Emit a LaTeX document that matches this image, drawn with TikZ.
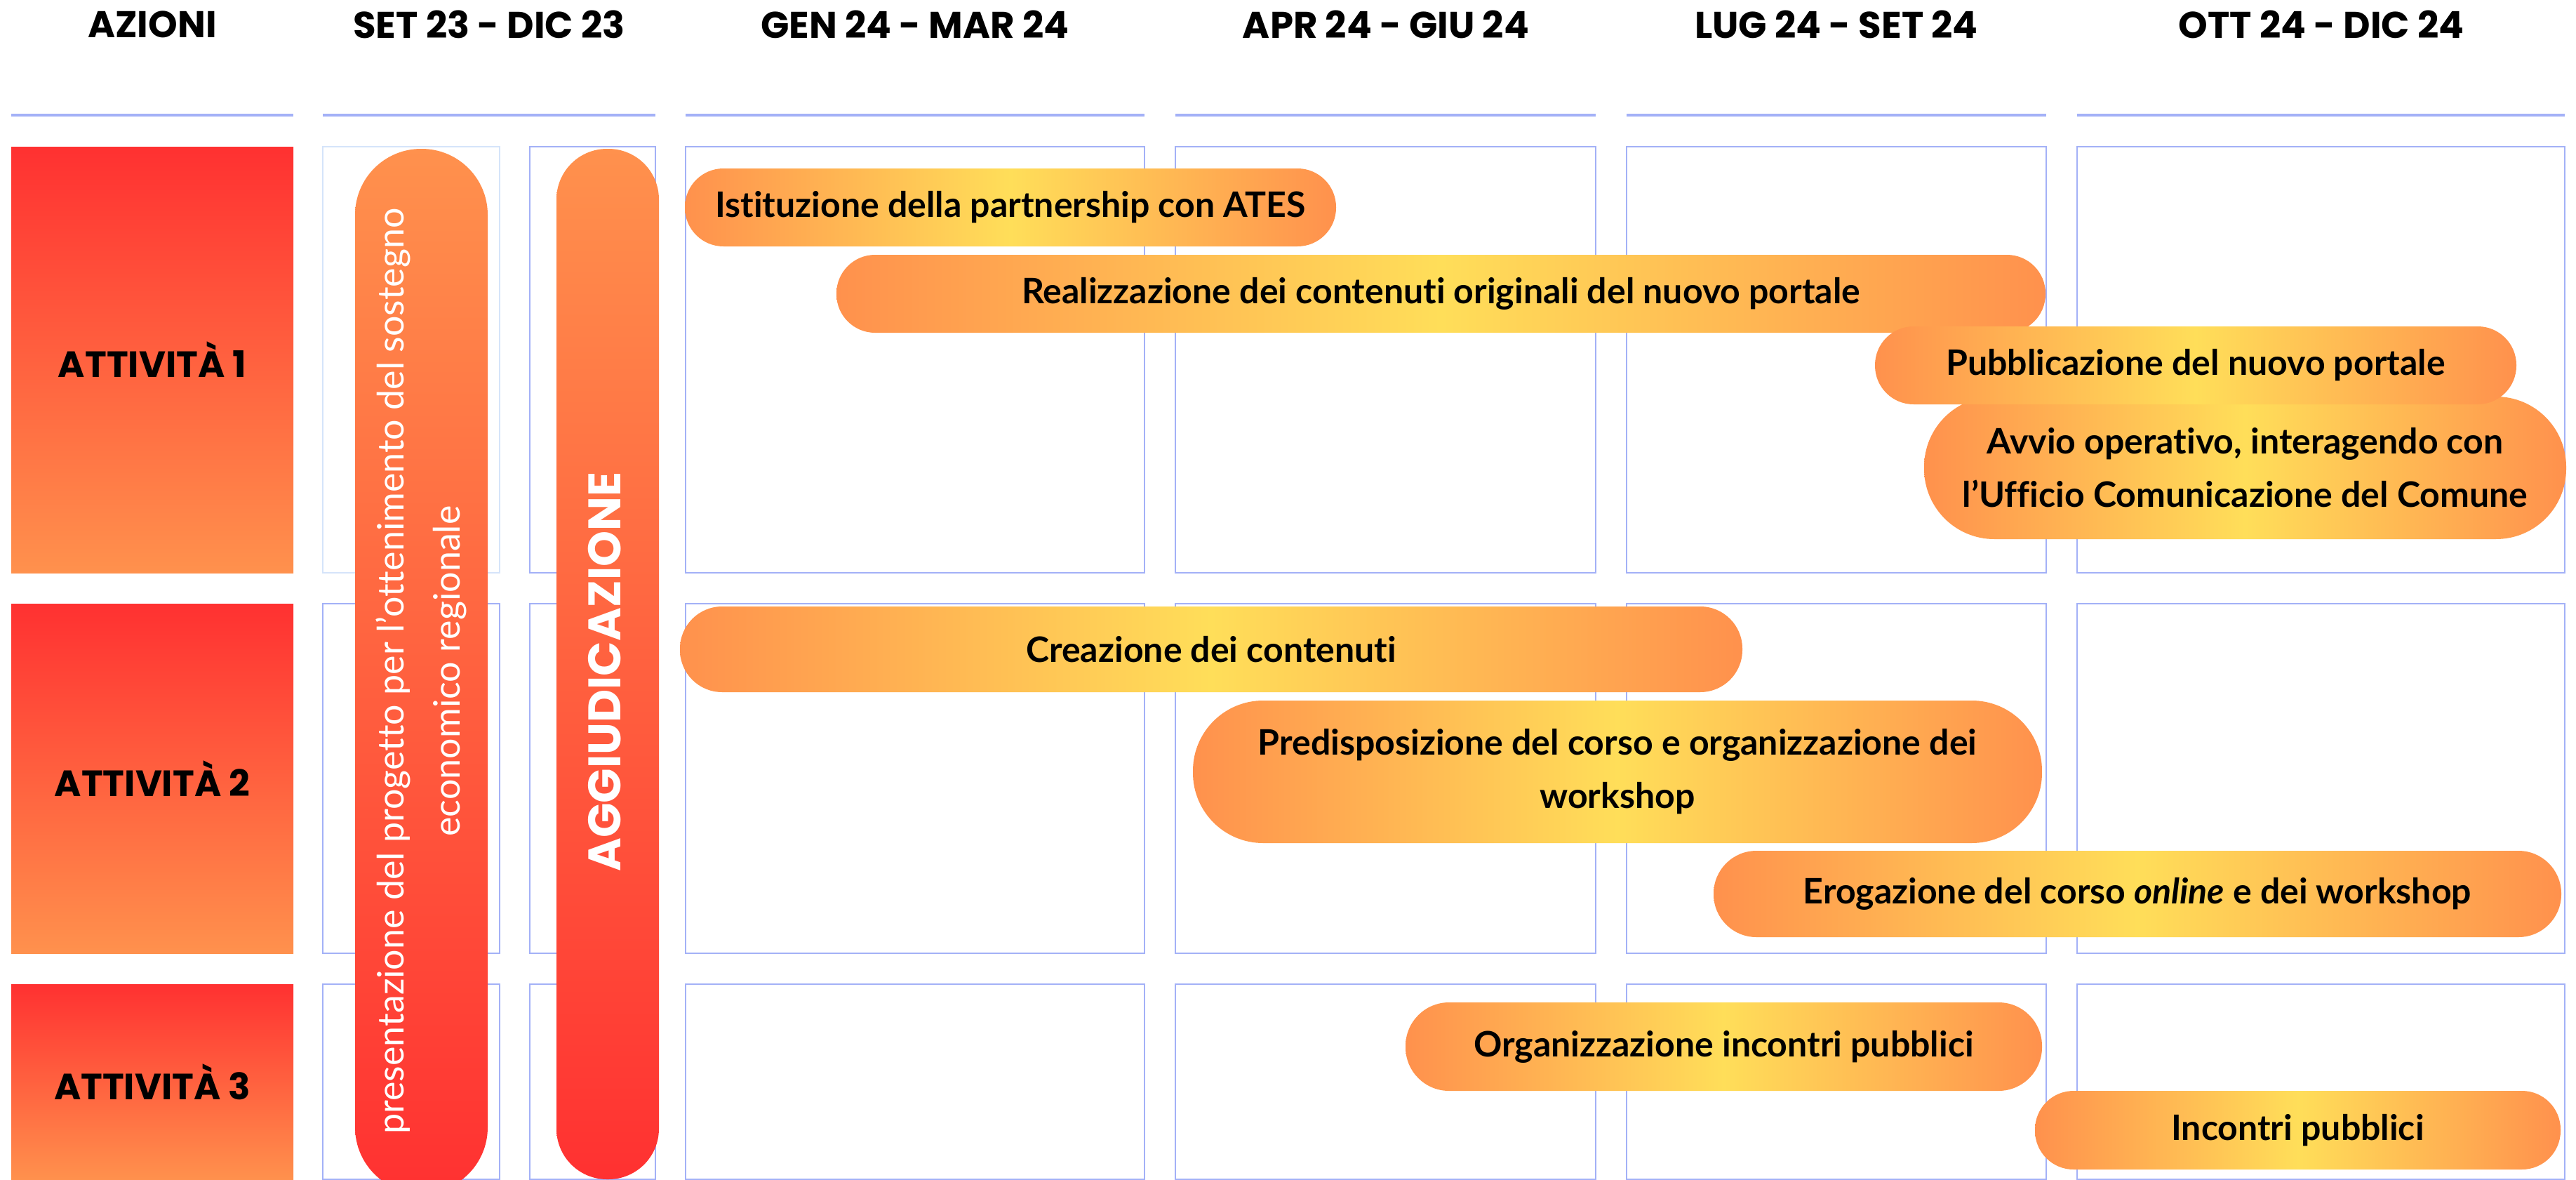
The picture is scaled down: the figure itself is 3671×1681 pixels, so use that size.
\documentclass[tikz,border=0pt]{standalone}
\usepackage{fontspec}
\setmainfont{Lato}[Ligatures={NoCommon}]
\newfontfamily\popf{Poppins}
\definecolor{gridc}{HTML}{A3B1F7}
\definecolor{gridl}{HTML}{D5E4FA}
\definecolor{redc}{HTML}{FF3131}
\definecolor{orc}{HTML}{FF914D}
\definecolor{yelc}{HTML}{FFDE59}
\begin{document}
\begin{tikzpicture}[x=1pt,y=-1pt,
  cell/.style={draw=gridc, line width=2.5pt},
  hline/.style={draw=gridc, line width=3.5pt},
  head/.style={font=\popf\bfseries\fontsize{53}{60}\selectfont, inner sep=0pt},
  actbox/.style={rectangle, inner sep=0pt, top color=redc, bottom color=orc,
    font=\popf\bfseries\fontsize{52}{60}\selectfont},
  bar/.style={rectangle, inner sep=0pt, rounded corners=#1, left color=orc, right color=orc,
    middle color=yelc, font=\bfseries\fontsize{50}{76}\selectfont, align=center},
  vbar/.style={rectangle, inner sep=0pt, rounded corners=#1,
    top color=orc, bottom color=redc},
  vtext/.style={rotate=90, text=white, align=center, inner sep=0pt},
]
\useasboundingbox (0,0) rectangle (3671,1681);
\clip (0,0) rectangle (3671,1681);
\fill[white] (0,0) rectangle (3671,1681);

% header lines
\foreach \a/\b in {16/418,460/934,977/1631,1675/2274,2318/2916,2960/3655}
  \draw[hline] (\a,164) -- (\b,164);

% headers
\node[head] (hAz) at (217,35) {AZIONI};
\node[head] (hSet) at (697,35) {SET 23 - DIC 23};
\node[head] (hGen) at (1304,35) {GEN 24 - MAR 24};
\node[head] (hApr) at (1975,35) {APR 24 - GIU 24};
\node[head] (hLug) at (2617,35) {LUG 24 - SET 24};
\node[head] (hOtt) at (3308,35) {OTT 24 - DIC 24};

% grid cells
\foreach \ya/\yb in {209/816,860/1358,1402/1680}
  \foreach \xa/\xb in {460/712,755/934,977/1631,1675/2274,2318/2916,2960/3655}
    \draw[cell] (\xa,\ya) rectangle (\xb,\yb);
\draw[draw=white, line width=3pt] (460,209) rectangle (712,816);
\draw[draw=gridl, line width=2.5pt] (460,209) rectangle (712,816);

% activity boxes
\node[actbox, minimum width=402, minimum height=607] (a1) at (217,512.5) {ATTIVITÀ 1};
\node[actbox, minimum width=402, minimum height=498] (a2) at (217,1109) {ATTIVITÀ 2};
\node[actbox, minimum width=402, minimum height=279] (a3) at (217,1541.5) {ATTIVITÀ 3};

% vertical bars
\node[vbar=94, minimum width=189, minimum height=1488] (pres) at (600.5,956) {};
\node[vtext, font=\fontsize{52}{80}\selectfont] (presT) at (pres.center)
  {presentazione del progetto per l'ottenimento del sostegno\\economico regionale};
\node[vbar=72, minimum width=146, minimum height=1468] (agg) at (866,946) {};
\node[vtext, font=\popf\bfseries\fontsize{65}{70}\selectfont] (aggT) at (862,957) {AGGIUDICAZIONE};

% horizontal bars
\node[bar=55, minimum width=928, minimum height=111] (ist) at (1440,295.5)
  {Istituzione della partnership con ATES};
\node[bar=55, minimum width=1723, minimum height=111] (real) at (2053.5,418.5)
  {Realizzazione dei contenuti originali del nuovo portale};
\node[bar=100, minimum width=915, minimum height=203] (avv) at (3199.5,666.5)
  {Avvio operativo, interagendo con\\l'Ufficio Comunicazione del Comune};
\node[bar=55, minimum width=914, minimum height=111] (pub) at (3129,520.5)
  {Pubblicazione del nuovo portale};
\node[bar=60, minimum width=1514, minimum height=122] (crea) at (1726,925)
  {Creazione dei contenuti};
\node[bar=100, minimum width=1210, minimum height=203] (pred) at (2305,1099.5)
  {Predisposizione del corso e organizzazione dei\\workshop};
\node[bar=61, minimum width=1208, minimum height=123] (erog) at (3046,1273.5)
  {Erogazione del corso \textit{online} e dei workshop};
\node[bar=62, minimum width=907, minimum height=126] (org) at (2456.5,1491)
  {Organizzazione incontri pubblici};
\node[bar=55, minimum width=749, minimum height=112] (inc) at (3274.5,1610)
  {Incontri pubblici};
\end{tikzpicture}
\end{document}
